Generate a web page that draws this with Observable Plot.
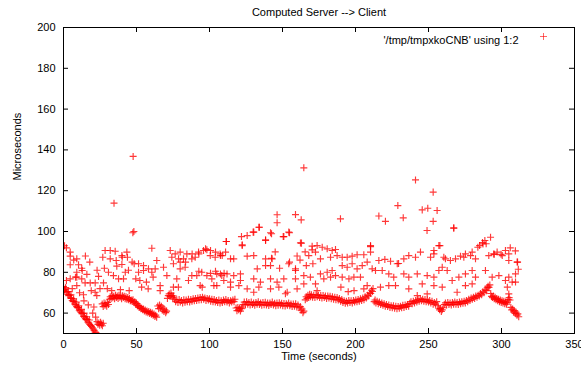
<!DOCTYPE html>
<html><head><meta charset="utf-8">
<script src="https://cdn.jsdelivr.net/npm/d3@7"></script>
<script src="https://cdn.jsdelivr.net/npm/@observablehq/plot@0.6"></script>
<style>body{margin:0;background:#fff}</style>
</head><body><div id="chart"></div>
<script>
const title = "Computed Server --> Client";
const xLabel = "Time (seconds)";
const yLabel = "Microseconds";
const legendLabel = "'/tmp/tmpxkoCNB' using 1:2";
const xTicks = [0, 50, 100, 150, 200, 250, 300, 350];
const yTicks = [60, 80, 100, 120, 140, 160, 180, 200];

// dense lower band: [time (s), microseconds]
const baseline = [
[0,73],[0.6,71.5],[1.2,71.8],[1.8,70.2],[2.4,70.5],[3,69.2],[3.6,68.6],[4.2,68.8],[4.8,67.4],[5.4,67.2],[6,66.2],[6.6,65.6],[7.2,65.8],[7.8,64.4],[8.4,64],[9,63.2],[9.6,62.6],[10.2,62.8],[10.8,61.4],[11.4,61],[12,60.3],[12.6,59.7],[13.2,59.8],[13.8,58.4],[14.4,58],[15,57.3],[15.6,56.8],[16.2,56.9],[16.8,55.6],[17.4,55],[18,54.4],[18.6,53.9],[19.2,53.5],[19.8,52.8],[20.4,52.2],[21,51.5],[21.6,50.8],[22.2,50.4],
[0.3,71],[1.5,72.5],[3.3,70.6],[5.1,69],[6.9,67],[8.7,65.4],[10.5,63.6],[12.3,61.8],[14.1,60],[15.9,58.2],[17.7,56.6],
[23,55.8],[23.6,54.5],[24.2,55.2],[24.8,54],[25.4,55.5],[26,54.6],[26.6,53.8],[27.2,55],
[26.5,64.5],[27.2,63.2],[27.8,65],[28.4,63.8],[29,64.6],[29.6,63.4],[30.2,65.2],[30.8,64.2],
[31.4,66.8],[32,68],[32.6,67.2],[33.2,68.6],[33.8,67.5],[34.4,68.2],[35,67],[35.6,68.8],[36.2,67.6],[36.8,68.4],[37.4,67.2],[38,68.8],[38.6,67.8],[39.2,68.3],[39.8,67.1],[40.4,68.5],[41,67.6],[41.6,68.2],[42.2,67],[42.8,68],[43.4,66.8],[44,67.6],[44.6,66.5],[45.2,67.2],[45.8,66],
[46.4,66.4],[47,65.8],[47.6,66.5],[48.2,65.2],[48.8,65.6],[49.4,64.4],[50,64.8],[50.6,63.6],[51.2,63.8],[51.8,62.8],[52.4,63.2],[53,62.2],[53.6,62.4],[54.2,61.6],[54.8,62],[55.4,61],[56,61.5],[56.6,60.6],[57.2,61],[57.8,60.2],[58.4,60.8],[59,59.8],[59.6,60.4],[60.2,59.5],[60.8,60],[61.4,59],[62,59.6],[62.6,58.4],[63.2,59],[63.8,58],
[64.6,63.5],[65.2,62.2],[65.8,64],[66.4,62.6],[67,63.4],[67.6,61.5],[68.2,62.4],[68.8,60.8],[69.4,61.6],[70,60.2],[70.6,61],
[71.2,67.2],[71.8,68.6],[72.4,69.4],[73,68.2],[73.6,69.8],[74.2,68.6],[74.8,67.6],[75.4,68.4],
[76,66.8],[76.8,65.6],[77.6,66.4],[78.4,65.2],[79.2,66.6],[80,65.4],[80.8,66.2],[81.6,65],[82.4,66.5],[83.2,65.3],[84,66.4],[84.8,65.6],[85.6,66.8],[86.4,65.4],[87.2,66.6],[88,65.8],[88.8,67],[89.6,66],[90.4,67.2],[91.2,66.2],[92,67.4],[92.8,66.4],[93.6,67.6],[94.4,66.6],[95.2,67.8],[96,66.8],[96.8,67.4],[97.6,66.2],[98.4,67.2],[99.2,66.4],[100,67],[100.8,65.8],[101.6,66.8],[102.4,65.6],[103.2,66.6],[104,65.4],[104.8,66.2],[105.6,65.2],[106.4,66.4],[107.2,65],[108,66],[108.8,65.2],[109.6,66.4],[110.4,65.6],[111.2,66.6],[112,65.4],[112.8,66.2],[113.6,65],[114.4,66],[115.2,65.4],[116,66.4],[116.8,65.6],[117.4,66.8],
[118.2,62.5],[118.8,61.2],[119.4,62.8],[120,61.6],[120.6,62.4],[121.2,61],[121.8,62.2],[122.4,63],
[123,64.2],[123.8,65.4],[124.6,64],[125.4,65.6],[126.2,64.4],[127,65.2],[127.8,64],[128.6,65.4],[129.4,64.2],[130.2,65],[131,63.8],[131.8,65.2],[132.6,64.4],[133.4,65.6],[134.2,64.2],[135,65],[135.8,63.9],[136.6,65.2],[137.4,64.1],[138.2,65.3],[139,64],[139.8,64.9],[140.6,63.7],[141.4,65],[142.2,64.2],[143,65.4],[143.8,64],[144.6,64.8],[145.4,63.6],[146.2,64.9],[147,63.9],[147.8,65.1],[148.6,64],[149.4,64.8],[150.2,63.6],[151,64.7],[151.8,63.5],[152.6,64.6],[153.4,63.8],[154.2,65],[155,63.6],[155.8,64.4],[156.6,63.2],[157.4,64.5],[158.2,63.4],[159,64.6],[159.8,63],[160.6,64],[161.4,62.6],[162.2,63.2],[162.8,61.4],[163.4,62],[164,60.2],[164.6,61],
[165.6,66.5],[166.2,68],[166.8,67.2],[167.4,68.8],[168,67.6],[168.6,69.2],[169.2,68],[169.8,69],[170.6,67.8],[171.4,68.8],[172.2,67.6],[173,69],[173.8,68],[174.6,68.8],[175.4,67.6],[176.2,68.6],[177,67.4],[177.8,68.6],[178.6,67.6],[179.4,68.4],[180.2,67.2],[181,68.4],[181.8,67.4],[182.6,68.2],[183.4,67],[184.2,68],[185,66.8],[185.8,67.8],[186.6,66.6],[187.4,67.6],[188.2,66.4],[189,67.2],
[189.8,65.8],[190.6,66.6],[191.4,65.2],[192.2,66],[193,64.8],[193.8,65.8],[194.6,65],[195.4,66.2],[196.2,65.2],[197,66],[197.8,65],[198.6,66.2],[199.4,65.4],[200.2,66.4],[201,65.6],[201.8,66.6],[202.6,65.8],[203.4,67],[204.2,66.2],[205,67.4],[205.8,66.6],[206.6,68],[207.4,67.4],[208.2,68.8],[209,68.4],[209.8,70],[210.4,69.6],[211,71.2],[211.6,70.6],[212,72],
[212.8,65.6],[213.4,66.4],[214,65],[214.8,65.8],[215.6,64.6],[216.4,65.4],[217.2,64.2],[218,65],[218.8,63.8],[219.6,64.6],[220.4,63.4],[221.2,64.2],[222,63.2],[222.8,64],[223.6,62.8],[224.4,63.6],
[225.2,62.6],[226,63.6],[226.8,62.4],[227.6,63.4],[228.4,62.2],[229.2,63.2],[230,62.4],[230.8,63.4],[231.6,62.6],[232.4,63.8],[233.2,62.8],[234,64],[234.8,63.2],[235.6,64.2],[236.4,63.4],
[237.2,64.8],[238,65.6],[238.8,64.6],[239.6,65.8],[240.4,65],[241.2,66.2],[242,65.4],[242.8,66.6],[243.6,65.8],[244.4,67],[245.2,66],[246,66.8],[246.8,65.8],[247.6,66.6],[248.4,65.6],[249.2,66.4],[250,65.4],[250.8,66.2],[251.6,65],[252.4,65.8],[253.2,64.4],[254,65.2],[254.8,64.4],[255.6,65.6],
[256.4,63.6],[257,62.4],[257.6,61.6],[258.2,62.2],[258.8,60.8],[259.4,61.6],[260,62.6],
[260.8,64.2],[261.6,65],[262.4,64],[263.2,65.2],[264,64.2],[264.8,65],[265.6,64],[266.4,65.2],[267.2,64.4],[268,65.4],[268.8,64.4],[269.6,65.2],[270.4,64.2],[271.2,65.4],[272,64.6],[272.8,65.6],[273.6,64.8],[274.4,65.8],[275.2,65],
[276,66.2],[276.8,65.6],[277.6,66.8],[278.4,66.2],[279.2,67.4],[280,66.8],[280.8,67.8],[281.6,67.2],[282.4,68.4],[283.2,67.8],[284,68.8],[284.8,68.4],[285.6,69.6],[286.4,69],[287.2,70.4],[288,70],[288.8,71.4],[289.6,71],[290.2,72.4],[290.8,73.2],[291.4,72.6],[292,73.8],
[292.6,69.6],[293.2,68.2],[293.8,67.6],[294.4,68.4],[295,67],[295.6,67.8],[296.2,66.6],[296.8,67.2],[297.4,66],[298,66.8],[298.6,65.6],[299.2,66.4],[299.8,65.2],[300.4,66],[301,65],[301.6,65.8],[302.2,64.6],[302.8,65.4],[303.4,64.4],[304,65.4],[304.6,66.6],[305.2,67.6],[305.8,66.4],
[306.4,62.8],[307,61.6],[307.6,62],[308.2,60.6],[308.8,61.2],[309.4,59.8],[310,60.4],[310.6,59],[311.2,59.6],[311.8,58.2]
];

// sparse points above the band: [time (s), microseconds]
const scatter = [
[0.7,93],[34.6,113.9],[47.7,136.8],[47.5,99.4],[48.2,100],[164.6,131.2],[146.3,108.2],[146.3,104.3],[158.9,108.3],[162.8,105.7],[134.2,102.1],[142.5,98.9],[150.9,97.5],[154.8,99.4],[130.3,99.7],[125.8,98],[121.9,97.5],[138.4,95.9],[111.4,95.1],[163,94.3],[122.4,93.5],[170.3,91],
[241.1,125.3],[253.2,119.3],[229,112.7],[189.7,106.2],[216,107.6],[220.5,105],[232.7,106.7],[245.7,110.6],[249.5,111.4],[255.9,110.3],[249,100.5],[253.2,105],[267.3,101.8],[210.3,92.6],[292.5,97.2],[288.6,95.6],[133.8,102.1],[129.9,99.7],[141.8,99.4],[154.3,99.7],[162.3,94.4],
[4.6,89.9],[4.6,87.9],[9.1,86.6],[4.6,83.7],[10.3,83.7],[12.5,82],[9.1,80],[4.6,76.8],[9.1,77.6],[12.5,76.8],[9.1,73.5],[14.8,74.8],[18.3,74.8],[21.7,74.8],[13.7,69],[21.7,70.2],[22.8,68.6],[27.4,74.8],[26.9,87.4],[28.5,90.7],[32,90.7],[35.4,90.3],[32,86.6],[36.1,85.8],[40,88.2],[43.4,89.9],[43.8,87.4],[30.8,80],[34.2,78.4],[37.7,76.8],[41.1,76.8],[36.5,83],[40,83.8],[42.3,80],[44.5,81],[48.4,84.2],[51.4,84.2],[54.8,83.3],[51.4,80],[54.8,80.9],[58.2,81.7],[60.5,80],[62.8,81.7],[49.5,76.8],[52.3,76],[56.8,75.2],[61.4,77.6],[53.5,72.7],[58,71.9],[60.5,91.8],[63.9,85.8],[66.2,73.5],[66.2,71],[68.5,82.5],[70.8,78.4],[73.1,90.7],[74.2,87.4],[76.5,89],[78.8,86.6],[79.9,89.9],[82.2,86.6],[84.5,89],[87.9,86.6],[90.2,87.4],[92.5,89.9],[95.9,90.7],[98.2,91.1],[100.5,88.2],[103.9,87.4],[107.3,89],[79.9,81.7],[83.3,82.5],[87.9,78.4],[91.3,78.4],[94.7,80],[98.2,78.4],[101.6,76.8],[105,79.2],[108.4,78.4],[77.6,76.8],[85.6,76],[93.6,73.5],[105,73.5],[75.3,72.7],[78.7,72.7],[79.9,85],[75.3,84.2],
[83.6,85],[88.1,89],[92.7,89],[97.3,91.5],[100.7,90.7],[104.1,89.9],[108.7,88.2],[92.7,80.5],[100.7,79.5],[104.1,80.5],[110,79.5],[95,72.7],[103,73.5],[47,85],[40.2,87.4],[12.8,80.9],[8.2,77.6],[20.8,63],[2,92],[7,86],[16,79],[19,71],[25,72],[30,72],[33,71],[39,71.5],[45,71],[24,78],[28,82],[18,85],[15,88],[23,81],[2,76],[6,72],[11,70],[14,66],[17,64],[20,60],[22,58],
[150.5,97.5],[138.4,95.6],[111.6,95.1],[122.4,93.1],
[170.3,92.8],[173.7,93.1],[177.2,92.3],[180.6,91.5],[184,90.7],[186.3,91.2],[168,88.2],[172.6,89.9],[176,86.6],[182.9,87.4],
[187.4,88.2],[190.9,87.4],[194.3,87.4],[197.7,87.9],[201.1,88.6],[205.7,88.6],[210.3,93.1],[210.3,89.9],
[107.5,88.2],[111,89.9],[114.4,86.6],[116.6,86.6],[125.8,87.9],[130.3,88.2],[138.4,86.6],[142.9,86.6],[138.4,83.3],[141.8,83.3],[132.7,81.7],
[154.3,84.2],[158.9,81.7],[166.3,83.3],[170.8,84.2],[176,79.2],[180.6,80],[184,80.9],[186.3,78.4],
[190.9,83.3],[194.3,82.5],[197.7,84.2],[201.1,81.7],[204.6,83.3],[208,85],[211.4,81.7],
[107.5,79.2],[112,79.2],[116.6,78.4],[121.2,79.2],[109.8,76],[114.4,75.2],[121.2,76],
[130.3,76.8],[134.9,75.2],[141.8,76.8],[146.3,75.2],[150.9,76.8],[158.9,76.8],[164.6,78.4],[169.1,77.6],
[164.6,74.3],[172.6,74.3],[178.3,76.8],[182.9,77.6],[190.9,77.6],[195.5,76.8],[198.9,77.6],[203.4,77.6],[208,73.5],
[114.4,72.7],[120.1,73.5],[125.8,71.9],[133.8,72.7],[141.8,71.9],[147.5,72.7],[130.3,70.2],[153.2,70.2],[160,71.9],
[190,72.7],[199,71],[205.7,71.9],[173.7,71],[195,70.5],
[142.5,86.9],[154.8,85],[158.9,80.9],[152,69.5],[145,90],[160,88],[148,82],[165.5,90],[162,86],
[267.3,101.6],[285,93.1],[287.3,93.9],[283.8,92.3],[257.1,93.1],
[253.7,90.7],[253.7,89],[251.4,87.4],[244.5,89.9],[241.1,87.4],[236.5,88.2],[233.1,86.6],
[228.6,84.2],[224,85.4],[220.1,86.3],[216,85.8],[229.5,84.3],
[261.6,86.6],[265,85.8],[268.5,86.6],[271.9,87.9],[275.3,89],[279.9,89.9],[282.2,86.6],
[291.3,88.2],[294.7,89],[297,89.9],[300.5,88.2],[305,89],[305,85.8],[310.7,85],
[213.7,80.9],[218.3,80.9],[222.8,79.2],[226.2,77.6],
[233.1,79.2],[236.5,77.6],[242.3,79.2],[249.1,78.4],[253.7,77.6],[257.1,80.9],[259.4,82.5],[262.8,80.9],[266.2,76],
[270.8,77.6],[275.3,79.2],[279.9,80.9],[282.2,77.6],[289,80.9],[293.6,77.6],[298.2,78.4],[302.7,76],[305,77.6],[309.6,79.2],
[217.1,72.7],[222.8,73.5],[227.4,73.5],[236.5,71.9],[245.7,74.3],[253.7,73.5],[259.4,72.7],[269.6,70.2],[275.3,73.5],[279.9,74.3],
[304,72.7],[305,69.4],[309.6,75.2],[242.3,68.6],[249.1,69.4],
[311,85],[307.3,75.2],[302.7,90.7],[295,88.8],[299.7,88.8],[287,94.6],[289.5,94],[257.8,93.1],
[260.5,87.4],[274.2,87.4],[278.8,88.2],[309.5,90.5],[306,92],[311.5,81.5]
];

const points = baseline.concat(scatter).map(([t, v]) => ({t, v}));
const font = "'Liberation Sans', Arial, Helvetica, sans-serif";
const red = "#ff0000";

const chart = Plot.plot({
  width: 581, height: 368,
  marginLeft: 63, marginRight: 7, marginTop: 27, marginBottom: 35,
  style: {fontFamily: font, fontSize: "11px", background: "white", color: "black", overflow: "visible"},
  x: {domain: [0, 350], label: null},
  y: {domain: [50, 200], label: null},
  marks: [
    Plot.dot(points, {x: "t", y: "v", symbol: "plus", r: 2.4, stroke: red, strokeWidth: 1.15, strokeOpacity: 0.78, clip: true}),
    Plot.frame({stroke: "black", strokeWidth: 1}),
    Plot.tickX(xTicks, {x: d => d, insetTop: 301, stroke: "black"}),
    Plot.tickX(xTicks, {x: d => d, insetBottom: 301, stroke: "black"}),
    Plot.tickY(yTicks, {y: d => d, insetRight: 506, stroke: "black"}),
    Plot.tickY(yTicks, {y: d => d, insetLeft: 506, stroke: "black"}),
    Plot.axisX(xTicks, {anchor: "bottom", tickSize: 0, tickPadding: 7, label: null, fontSize: 11}),
    Plot.axisY(yTicks, {anchor: "left", tickSize: 0, tickPadding: 8, label: null, fontSize: 11}),
    Plot.text([title], {frameAnchor: "top", dy: -19, fontSize: 11}),
    Plot.text([xLabel], {frameAnchor: "bottom", dy: 26, fontSize: 11}),
    Plot.text([yLabel], {frameAnchor: "left", rotate: -90, dx: -46, fontSize: 11}),
    Plot.text([legendLabel], {frameAnchor: "top-right", textAnchor: "end", dx: -56, dy: 9, fontSize: 11}),
    Plot.dot([legendLabel], {frameAnchor: "top-right", dx: -31, dy: 9, symbol: "plus", r: 2.4, stroke: red, strokeWidth: 1, strokeOpacity: 0.6})
  ]
});
document.getElementById("chart").appendChild(chart);
</script>
</body></html>
